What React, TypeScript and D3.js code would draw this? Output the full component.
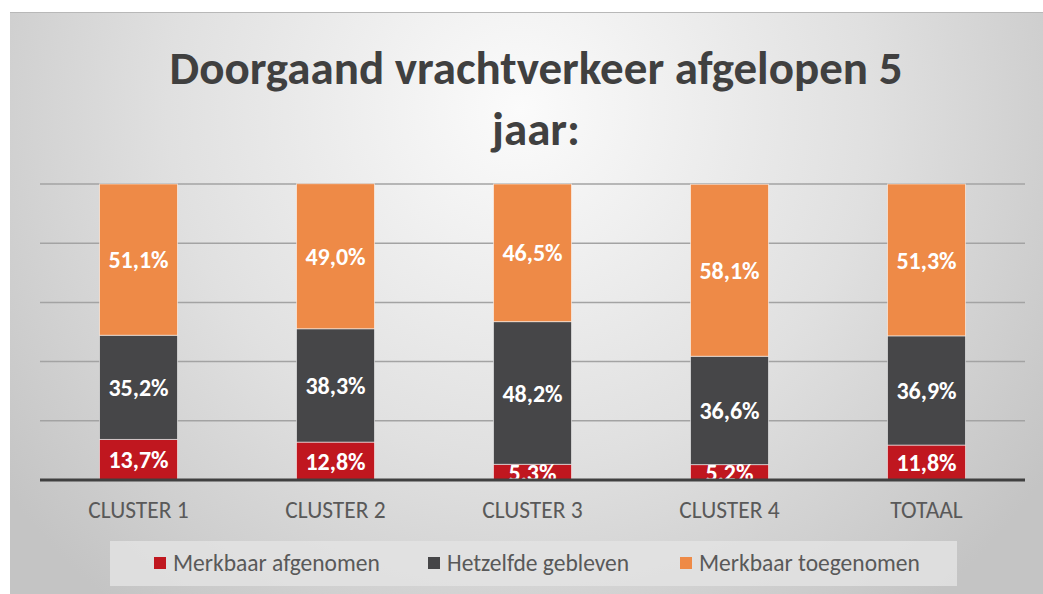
import React, { useRef, useEffect } from "react";
import * as d3 from "d3";

const categories = ["CLUSTER 1", "CLUSTER 2", "CLUSTER 3", "CLUSTER 4", "TOTAAL"];
const afgenomen = [13.7, 12.8, 5.3, 5.2, 11.8];
const gelijk = [35.2, 38.3, 48.2, 36.6, 36.9];
const toegenomen = [51.1, 49.0, 46.5, 58.1, 51.3];
const seriesNames = ["Merkbaar afgenomen", "Hetzelfde gebleven", "Merkbaar toegenomen"];
const seriesColors = ["#c0171f", "#464648", "#ee8a47"];
const yTicks = [0, 20, 40, 60, 80, 100];

export default function App() {
  const svgRef = useRef<SVGSVGElement>(null);

  useEffect(() => {
    document.body.style.margin = "0";
    const svg = d3.select(svgRef.current);
    svg.selectAll("*").remove();

    const W = 1043;
    const H = 594;
    const font = "Calibri, Carlito, Lato, 'Open Sans', sans-serif";
    const plot = { left: 40, right: 1025, top: 184, bottom: 480 };

    // background
    const defs = svg.append("defs");
    const grad = defs
      .append("radialGradient")
      .attr("id", "bg")
      .attr("gradientUnits", "userSpaceOnUse")
      .attr("cx", 520)
      .attr("cy", 110)
      .attr("r", 640);
    grad.append("stop").attr("offset", "0%").attr("stop-color", "#fbfbfb");
    grad.append("stop").attr("offset", "55%").attr("stop-color", "#e0e0e0");
    grad.append("stop").attr("offset", "100%").attr("stop-color", "#c4c4c4");

    defs
      .append("clipPath")
      .attr("id", "plotclip")
      .append("rect")
      .attr("x", 0)
      .attr("y", 0)
      .attr("width", W)
      .attr("height", plot.bottom);

    svg.append("rect").attr("x", 0).attr("y", 0).attr("width", W).attr("height", H).attr("fill", "#fff");
    svg
      .append("rect")
      .attr("x", 10)
      .attr("y", 12)
      .attr("width", W - 10)
      .attr("height", H - 12)
      .attr("fill", "url(#bg)");
    svg
      .append("line")
      .attr("x1", 10)
      .attr("x2", W)
      .attr("y1", 12.5)
      .attr("y2", 12.5)
      .attr("stroke", "#b8b8b8")
      .attr("stroke-width", 1);

    // title
    const title = svg
      .append("text")
      .attr("text-anchor", "middle")
      .attr("font-family", font)
      .attr("font-weight", "bold")
      .attr("font-size", 47)
      .attr("fill", "#404040");
    title.append("tspan").attr("x", 536).attr("y", 84).text("Doorgaand vrachtverkeer afgelopen 5");
    title.append("tspan").attr("x", 536).attr("y", 145).text("jaar:");

    const x = d3
      .scaleBand()
      .domain(categories)
      .range([plot.left, plot.right])
      .paddingInner(0.604)
      .paddingOuter(0.302);
    const y = d3.scaleLinear().domain([0, 100]).range([plot.bottom, plot.top]);

    // gridlines
    svg
      .append("g")
      .selectAll("line")
      .data(yTicks.filter((t) => t > 0))
      .enter()
      .append("line")
      .attr("x1", plot.left)
      .attr("x2", plot.right)
      .attr("y1", (d) => y(d))
      .attr("y2", (d) => y(d))
      .attr("stroke", "#a3a3a3")
      .attr("stroke-width", 1.5);

    const rows = categories.map((c, i) => ({
      cat: c,
      a: afgenomen[i],
      b: gelijk[i],
      c: toegenomen[i],
    }));
    const stacked = d3.stack<any>().keys(["a", "b", "c"])(rows);

    const bars = svg.append("g");
    stacked.forEach((layer, si) => {
      bars
        .selectAll(null)
        .data(layer)
        .enter()
        .append("rect")
        .attr("x", (d: any) => x(d.data.cat)!)
        .attr("width", x.bandwidth())
        .attr("y", (d) => y(d[1]))
        .attr("height", (d) => y(d[0]) - y(d[1]))
        .attr("fill", seriesColors[si])
        .attr("stroke", "#ffffff")
        .attr("stroke-opacity", 0.55)
        .attr("stroke-width", 1);
    });

    // labels
    const labels = svg.append("g").attr("clip-path", "url(#plotclip)");
    stacked.forEach((layer) => {
      labels
        .selectAll(null)
        .data(layer)
        .enter()
        .append("text")
        .attr("x", (d: any) => x(d.data.cat)! + x.bandwidth() / 2)
        .attr("y", (d) => (y(d[0]) + y(d[1])) / 2)
        .attr("dy", "0.36em")
        .attr("text-anchor", "middle")
        .attr("font-family", font)
        .attr("font-weight", "bold")
        .attr("font-size", 24)
        .attr("fill", "#ffffff")
        .text((d) => (d[1] - d[0]).toFixed(1).replace(".", ",") + "%");
    });

    // axis line
    svg
      .append("line")
      .attr("x1", plot.left)
      .attr("x2", plot.right)
      .attr("y1", plot.bottom)
      .attr("y2", plot.bottom)
      .attr("stroke", "#404040")
      .attr("stroke-width", 3);

    // category labels
    svg
      .append("g")
      .selectAll("text")
      .data(categories)
      .enter()
      .append("text")
      .attr("x", (d) => x(d)! + x.bandwidth() / 2)
      .attr("y", 518)
      .attr("text-anchor", "middle")
      .attr("font-family", font)
      .attr("font-size", 23.5)
      .attr("fill", "#595959")
      .text((d) => d);

    // legend
    svg
      .append("rect")
      .attr("x", 110)
      .attr("y", 541)
      .attr("width", 847)
      .attr("height", 45)
      .attr("fill", "#e3e3e3")
      .attr("fill-opacity", 0.8);
    const legendX = [154, 428, 680];
    const lg = svg
      .append("g")
      .selectAll("g")
      .data(seriesNames)
      .enter()
      .append("g")
      .attr("transform", (_, i) => `translate(${legendX[i]},0)`);
    lg.append("rect")
      .attr("x", 0)
      .attr("y", 557)
      .attr("width", 12)
      .attr("height", 12)
      .attr("fill", (_, i) => seriesColors[i]);
    lg.append("text")
      .attr("x", 19)
      .attr("y", 571)
      .attr("font-family", font)
      .attr("font-size", 23.5)
      .attr("fill", "#595959")
      .text((d) => d);
  }, []);

  return <svg ref={svgRef} width={1043} height={594} style={{ display: "block" }}></svg>;
}
